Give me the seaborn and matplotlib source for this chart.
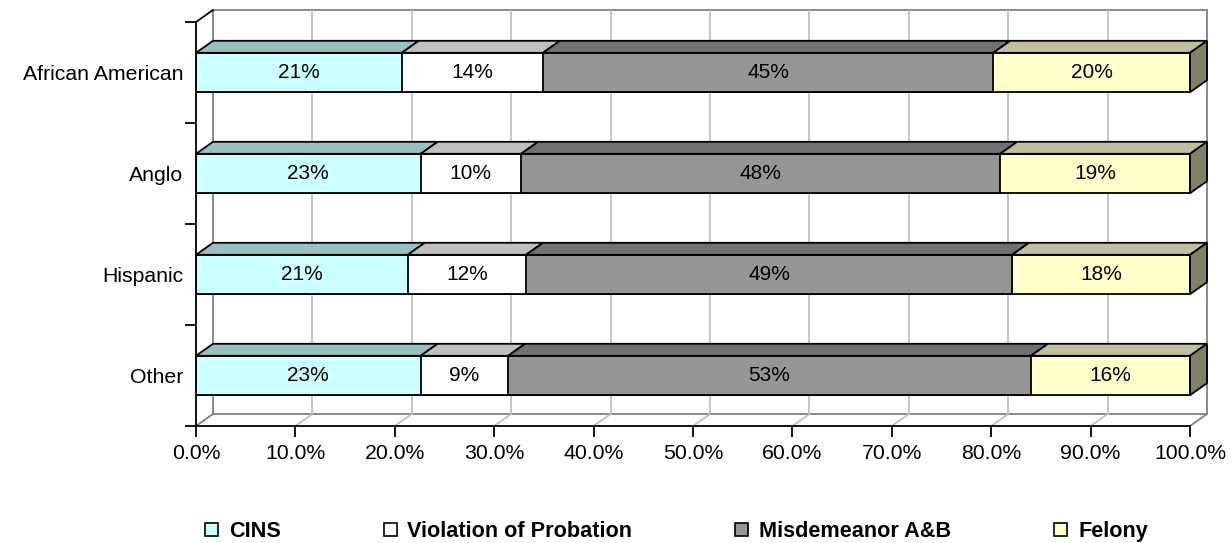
import numpy as np
import pandas as pd
import matplotlib
matplotlib.use("Agg")
import matplotlib.pyplot as plt
from matplotlib.patches import Polygon, Patch, Rectangle
import seaborn as sns

# ---- data ----
groups = ["African American", "Anglo", "Hispanic", "Other"]
series = ["CINS", "Violation of Probation", "Misdemeanor A&B", "Felony"]
cins = [20.7, 22.6, 21.3, 22.6]
violation = [14.2, 10.1, 11.9, 8.8]
misdemeanor = [45.3, 48.2, 48.9, 52.6]
felony = [19.8, 19.1, 17.9, 16.0]
x_ticks = [0, 10, 20, 30, 40, 50, 60, 70, 80, 90, 100]

# ---- style ----
front_colors = ["#CCFFFF", "#FFFFFF", "#969696", "#FFFFCC"]
top_colors = ["#99C0C0", "#C0C0C0", "#717171", "#C0C0A0"]
side_color = "#808066"
BAR_H = 0.39
DX = 1.71      # depth offset along x (data units)
DY = 0.119     # depth offset along y (data units)
LW = 1.3
FONT = "Liberation Sans"

sns.set_style("white")
plt.rcParams["font.family"] = [FONT, "DejaVu Sans"]
plt.rcParams["text.color"] = "black"
plt.rcParams["xtick.labelcolor"] = "black"
plt.rcParams["ytick.labelcolor"] = "black"
plt.rcParams["axes.labelcolor"] = "black"

fig = plt.figure(figsize=(12.32, 5.43), dpi=100)
ax = fig.add_axes([196 / 1232, 117 / 543, 1011 / 1232, 416 / 543])
ax.set_facecolor("none")

vals = np.array([cins, violation, misdemeanor, felony])
cum = np.cumsum(vals, axis=0)
df = pd.DataFrame({"group": groups})
for i in range(4):
    df[series[i]] = cum[i]

# stacked bars via overlapping cumulative bars (drawn largest first)
for i in reversed(range(4)):
    sns.barplot(data=df, x=series[i], y="group", orient="h", color=front_colors[i],
                saturation=1, width=BAR_H, edgecolor="black", linewidth=LW,
                ax=ax, zorder=3)

ax.set_xlim(0, 100 + DX)
ax.set_ylim(3.5, -0.5 - DY)

# ---- walls ----
top_y = -0.5 - DY
bot_y = 3.5 - DY
ax.add_patch(Rectangle((DX, top_y), 100, 4.0, facecolor="white", edgecolor="#808080",
                       lw=LW, zorder=0, clip_on=False))
for xv in x_ticks[1:-1]:
    ax.plot([xv + DX, xv + DX], [top_y, bot_y], color="#C0C0C0", lw=LW, zorder=1)
for xv in x_ticks:
    c = "#808080" if xv in (0, 100) else "#C0C0C0"
    ax.plot([xv, xv + DX], [3.5, bot_y], color=c, lw=LW, zorder=1, clip_on=False)
ax.plot([0, DX], [-0.5, top_y], color="black", lw=LW, zorder=4, clip_on=False)

# ---- 3D top / side faces and labels ----
for j, g in enumerate(groups):
    yt = j - BAR_H / 2
    yb = j + BAR_H / 2
    for i in range(4):
        x0 = 0 if i == 0 else cum[i - 1][j]
        x1 = cum[i][j]
        ax.add_patch(Polygon([(x0, yt), (x1, yt), (x1 + DX, yt - DY), (x0 + DX, yt - DY)],
                             closed=True, facecolor=top_colors[i], edgecolor="black",
                             lw=LW, zorder=4, clip_on=False))
        ax.text((x0 + x1) / 2, j, f"{vals[i][j]:.0f}%", ha="center", va="center",
                fontsize=15, color="black", zorder=6)
    xe = cum[3][j]
    ax.add_patch(Polygon([(xe, yt), (xe + DX, yt - DY), (xe + DX, yb - DY), (xe, yb)],
                         closed=True, facecolor=side_color, edgecolor="black",
                         lw=LW, zorder=4, clip_on=False))

# ---- axes / ticks ----
for s in ["top", "right"]:
    ax.spines[s].set_visible(False)
for s in ["left", "bottom"]:
    ax.spines[s].set_color("black")
    ax.spines[s].set_linewidth(LW)
    ax.spines[s].set_zorder(5)
ax.spines["left"].set_bounds(-0.5, 3.5)
ax.spines["bottom"].set_bounds(0, 100)

ax.set_yticks(range(len(groups)))
ax.set_yticklabels(groups, fontsize=15.3, color="black")
ax.set_yticks([-0.5, 0.5, 1.5, 2.5, 3.5], minor=True)
ax.tick_params(axis="y", which="major", length=0, pad=9)
ax.tick_params(axis="y", which="minor", length=8, width=LW, color="black", direction="out", left=True)
ax.set_xticks(x_ticks)
ax.set_xticklabels([f"{v:.1f}%" for v in x_ticks], fontsize=15.3, color="black")
ax.tick_params(axis="x", which="major", length=8, width=LW, color="black", direction="out",
               bottom=True, pad=5)
ax.set_xlabel("")
ax.set_ylabel("")
ax.grid(False)

handles = [Patch(facecolor=c, edgecolor="black", lw=1.2) for c in front_colors]
fig.legend(handles, series, loc="center", bbox_to_anchor=(0.549, 0.021), ncol=4,
           frameon=False, prop=dict(family=FONT, weight="bold", size=15.6),
           handlelength=0.6, handleheight=0.6, handletextpad=0.5, columnspacing=4.75,
           labelcolor="black")

fig.savefig("out.png", dpi=100)
